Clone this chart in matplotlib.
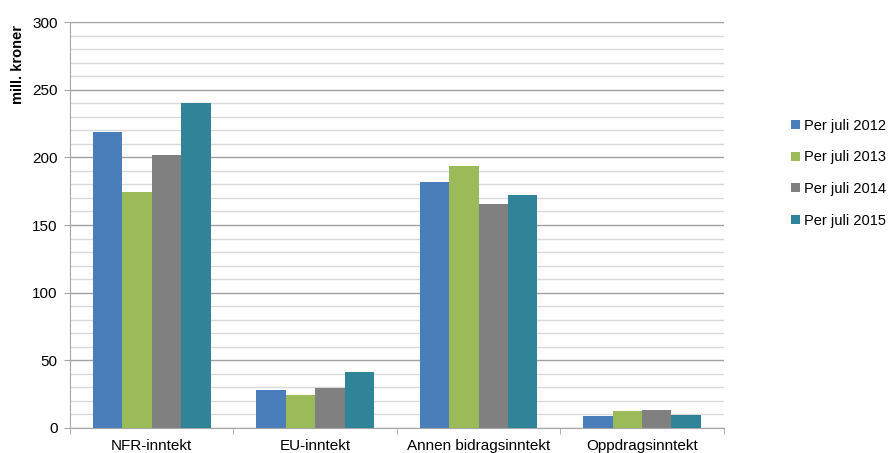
import matplotlib.pyplot as plt
import numpy as np

plt.rcParams['font.family'] = ['Liberation Sans', 'DejaVu Sans']

categories = ['NFR-inntekt', 'EU-inntekt', 'Annen bidragsinntekt', 'Oppdragsinntekt']
series_names = ['Per juli 2012', 'Per juli 2013', 'Per juli 2014', 'Per juli 2015']
v2012 = [219, 28, 181.5, 9]
v2013 = [174.5, 24.5, 194, 12.3]
v2014 = [202, 29.3, 165.2, 12.8]
v2015 = [240.5, 41, 172, 9.4]
colors = ['#4a7ebb', '#9bbb59', '#808080', '#2f8498']

fig = plt.figure(figsize=(8.88, 4.53), dpi=100)
ax = fig.add_axes((0.0788, 0.0558, 0.7362, 0.895))

x = np.arange(len(categories))
w = 0.18
for i, (vals, name) in enumerate(zip([v2012, v2013, v2014, v2015], series_names)):
    ax.bar(x + (i - 1.5) * w, vals, width=w, color=colors[i], label=name, zorder=3)

ax.set_xlim(-0.5, len(categories) - 0.5)
ax.set_ylim(0, 300)
ax.set_yticks(np.arange(0, 301, 50))
ax.set_yticks(np.arange(0, 301, 10), minor=True)
ax.grid(axis='y', which='minor', color='#d9d9d9', linewidth=1.0, zorder=0)
ax.grid(axis='y', which='major', color='#a0a0a0', linewidth=1.0, zorder=1)

ax.set_xticks(x)
ax.set_xticklabels(categories, fontsize=11)
ax.set_xticks(np.arange(-0.5, len(categories)), minor=True)
ax.tick_params(axis='x', which='major', length=0, pad=8)
ax.tick_params(axis='x', which='minor', length=4, color='#a6a6a6')
ax.tick_params(axis='y', which='major', length=4, color='#a6a6a6', labelsize=11, pad=5)
ax.tick_params(axis='y', which='minor', length=0)

for s in ['top', 'right']:
    ax.spines[s].set_visible(False)
for s in ['left', 'bottom']:
    ax.spines[s].set_color('#a6a6a6')

fig.text(18 / 888, 1 - 64 / 453, 'mill. kroner', rotation=90, fontsize=10.5,
         fontweight='bold', ha='center', va='center')

fig.legend(loc='upper left', bbox_to_anchor=(791 / 888, 1 - 119 / 453),
           frameon=False, fontsize=10.5, handlelength=0.6, handleheight=0.6,
           handletextpad=0.3, labelspacing=1.2, borderaxespad=0, borderpad=0)

fig.savefig('out.png', dpi=100)
